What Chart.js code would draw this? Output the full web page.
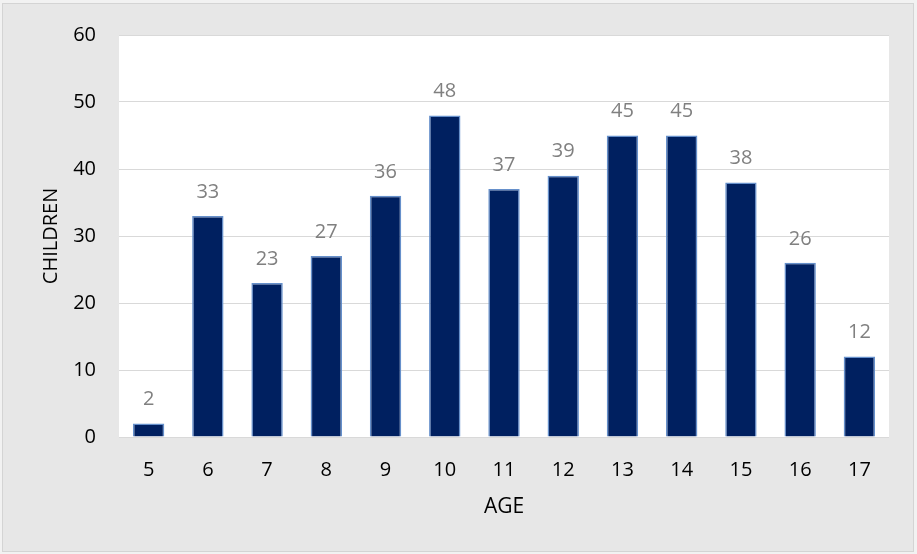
<!DOCTYPE html>
<html>
<head>
<meta charset="utf-8">
<script src="https://cdn.jsdelivr.net/npm/chart.js@4"></script>
<style>
  html, body { margin: 0; padding: 0; background: #f2f2f2; }
  #frame { position: absolute; left: 2px; top: 3px; width: 910px; height: 547px;
           background: #e7e7e7; border: 1px solid #d4d4d4; }
  #wrap { position: absolute; left: 0; top: 0; width: 917px; height: 554px; }
</style>
</head>
<body>
<div id="frame"></div>
<div id="wrap"><canvas id="chart" width="917" height="554"></canvas></div>
<script>
const ages = ['5', '6', '7', '8', '9', '10', '11', '12', '13', '14', '15', '16', '17'];
const children = [2, 33, 23, 27, 36, 48, 37, 39, 45, 45, 38, 26, 12];
const yTicks = [0, 10, 20, 30, 40, 50, 60];

const FONT = "'Open Sans', 'Liberation Sans', sans-serif";

// white plot area + value labels above bars
const plotBg = {
  id: 'plotBg',
  beforeDraw(chart) {
    const a = chart.chartArea, ctx = chart.ctx;
    ctx.save();
    ctx.fillStyle = '#ffffff';
    ctx.fillRect(a.left, a.top, a.right - a.left, a.bottom - a.top);
    ctx.restore();
  },
  afterDatasetsDraw(chart) {
    const ctx = chart.ctx;
    const meta = chart.getDatasetMeta(0);
    ctx.save();
    ctx.font = '20px ' + FONT;
    ctx.fillStyle = '#808080';
    ctx.textAlign = 'center';
    ctx.textBaseline = 'middle';
    meta.data.forEach(function(bar, i) {
      ctx.fillText(String(children[i]), bar.x, bar.y - 24);
    });
    ctx.restore();
  }
};

new Chart(document.getElementById('chart'), {
  type: 'bar',
  data: {
    labels: ages,
    datasets: [{
      data: children,
      backgroundColor: '#002060',
      borderColor: '#6690cb',
      borderWidth: 1.5,
      categoryPercentage: 1,
      barPercentage: 0.53
    }]
  },
  options: {
    responsive: false,
    animation: false,
    layout: { padding: { left: 0, right: 28, top: 33, bottom: 0 } },
    plugins: { legend: { display: false }, tooltip: { enabled: false } },
    scales: {
      x: {
        afterFit: function(s) { s.height = 117; },
        grid: { display: false },
        border: { display: false },
        ticks: { color: '#000000', font: { family: FONT, size: 20 }, padding: 13 },
        title: { display: true, text: 'AGE', color: '#000000',
                 font: { family: FONT, size: 21 }, padding: { top: 0, bottom: 34 } }
      },
      y: {
        min: 0, max: 60,
        afterFit: function(s) { s.width = 119; },
        afterBuildTicks: function(s) { s.ticks = yTicks.map(function(v) { return { value: v }; }); },
        grid: { color: '#d9d9d9', lineWidth: 1, drawTicks: false },
        border: { display: false },
        ticks: { color: '#000000', font: { family: FONT, size: 20 }, padding: 23 },
        title: { display: true, text: 'CHILDREN', color: '#000000',
                 font: { family: FONT, size: 20 }, padding: { top: 39, bottom: 0 } }
      }
    }
  },
  plugins: [plotBg]
});
</script>
</body>
</html>
